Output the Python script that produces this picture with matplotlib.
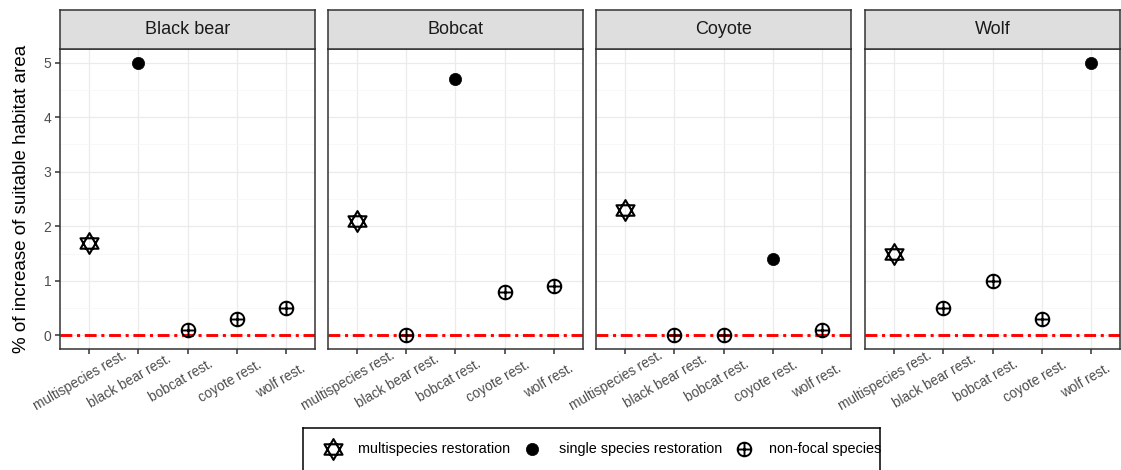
import matplotlib
matplotlib.use('Agg')
import matplotlib.pyplot as plt
import matplotlib.transforms as mtransforms
from matplotlib.path import Path
import numpy as np

plt.rcParams['font.family'] = ['Liberation Sans', 'DejaVu Sans']
plt.rcParams['lines.scale_dashes'] = False

# ---------------- data ----------------
panels = ['Black bear', 'Bobcat', 'Coyote', 'Wolf']
scenarios = ['multispecies rest.', 'black bear rest.', 'bobcat rest.',
             'coyote rest.', 'wolf rest.']
black_bear = [1.7, 5.0, 0.1, 0.3, 0.5]
bobcat = [2.1, 0.0, 4.7, 0.8, 0.9]
coyote = [2.3, 0.0, 0.0, 1.4, 0.1]
wolf = [1.5, 0.5, 1.0, 0.3, 5.0]
panel_values = [black_bear, bobcat, coyote, wolf]
focal_index = [1, 2, 3, 4]          # single-species restoration for each panel
y_ticks = [0, 1, 2, 3, 4, 5]
legend_labels = ['multispecies restoration', 'single species restoration',
                 'non-focal species']

# ---------------- markers ----------------
c30 = np.cos(np.pi / 6)
hexagram = Path(
    [(0, 1), (-c30, -0.5), (c30, -0.5), (0, 1),
     (0, -1), (-c30, 0.5), (c30, 0.5), (0, -1)],
    [Path.MOVETO, Path.LINETO, Path.LINETO, Path.CLOSEPOLY,
     Path.MOVETO, Path.LINETO, Path.LINETO, Path.CLOSEPOLY])
circle_plus = Path.make_compound_path(
    Path.unit_circle(),
    Path([(-1, 0), (1, 0)], [Path.MOVETO, Path.LINETO]),
    Path([(0, -1), (0, 1)], [Path.MOVETO, Path.LINETO]))

style_multi = dict(marker=hexagram, ms=15, mfc='none', mec='black', mew=1.5, ls='none')
style_single = dict(marker='o', ms=8.8, mfc='black', mec='black', mew=0.5, ls='none')
style_nonfocal = dict(marker=circle_plus, ms=9.8, mfc='none', mec='black', mew=1.4, ls='none')

# ---------------- layout ----------------
W, H = 1121, 470
fig = plt.figure(figsize=(W / 100, H / 100), dpi=100)
fig.patch.set_facecolor('white')

lefts = [60, 328, 596, 865]
pw = 255
top_px, bot_px, strip_top = 49, 349, 10
border = '#333333'

label_texts = []
for p, (name, vals) in enumerate(zip(panels, panel_values)):
    L = lefts[p]
    ax = fig.add_axes([L / W, 1 - bot_px / H, pw / W, (bot_px - top_px) / H])
    ax.set_xlim(-0.6, 4.6)
    ax.set_ylim(-0.25, 5.25)
    ax.set_xticks(range(len(scenarios)))
    ax.set_xticklabels([])
    ax.set_yticks(y_ticks)
    ax.set_yticks(np.arange(0.5, 5.25, 1.0), minor=True)
    ax.grid(which='major', color='#EBEBEB', lw=0.9, zorder=0)
    ax.grid(which='minor', axis='y', color='#F6F6F6', lw=0.5, zorder=0)
    ax.tick_params(axis='x', which='minor', bottom=False)
    ax.tick_params(axis='y', which='minor', left=False)
    ax.set_axisbelow(True)
    for s in ax.spines.values():
        s.set_color(border)
        s.set_linewidth(1.1)
    ax.tick_params(axis='x', length=3.6, width=1.1, color=border)
    if p == 0:
        ax.tick_params(axis='y', length=3.6, width=1.1, color=border,
                       labelsize=10, labelcolor='#4D4D4D', pad=2.5)
    else:
        ax.tick_params(axis='y', left=False, labelleft=False)

    # reference line at zero
    ax.axhline(0, color='#FF0000', lw=2.1, dashes=(8.5, 3.4, 2.2, 3.4), zorder=2)

    xs = np.arange(len(vals))
    vals = np.array(vals)
    multi = xs == 0
    single = xs == focal_index[p]
    nonf = ~(multi | single)
    ax.plot(xs[multi], vals[multi], zorder=4, **style_multi)
    ax.plot(xs[single], vals[single], zorder=4, **style_single)
    ax.plot(xs[nonf], vals[nonf], zorder=4, **style_nonfocal)

    # strip
    sax = fig.add_axes([L / W, 1 - top_px / H, pw / W, (top_px - strip_top) / H])
    sax.set_facecolor('#DEDEDE')
    sax.set_xticks([])
    sax.set_yticks([])
    for s in sax.spines.values():
        s.set_color(border)
        s.set_linewidth(1.1)
    sax.text(0.5, 0.5, name, ha='center', va='center', fontsize=13,
             color='#1A1A1A', transform=sax.transAxes)

    # rotated x labels
    trans = mtransforms.blended_transform_factory(ax.transData, fig.transFigure)
    for i, lab in enumerate(scenarios):
        t = fig.text(i, 1 - 381 / H, lab, rotation=30, ha='center', va='center',
                     fontsize=9.8, color='#4D4D4D', transform=trans)
        label_texts.append((t, trans))

# y axis title
fig.text(22 / W, 1 - 199 / H, '% of increase of suitable habitat area',
         rotation=90, ha='center', va='center', fontsize=13.5, color='black')

# shift labels slightly left (ggplot rotated justification)
fig.canvas.draw()
renderer = fig.canvas.get_renderer()
for t, trans in label_texts:
    w = t.get_window_extent(renderer).width
    t.set_transform(trans + mtransforms.Affine2D().translate(-0.1 * w, 0))

# ---------------- legend ----------------
lx0, lx1, ly0 = 303, 880, 428
lax = fig.add_axes([lx0 / W, (H - 480) / H, (lx1 - lx0) / W, (480 - ly0) / H])
lax.set_xlim(lx0, lx1)
lax.set_ylim(480, ly0)
lax.set_xticks([])
lax.set_yticks([])
for s in lax.spines.values():
    s.set_color('black')
    s.set_linewidth(1.1)
lax.patch.set_facecolor('white')
ky = 449
key_x = [333, 532, 744]
txt_x = [358, 559, 769]
styles = [style_multi, style_single, style_nonfocal]
for kx, tx, st, lab in zip(key_x, txt_x, styles, legend_labels):
    lax.plot([kx], [ky], **st)
    lax.text(tx, ky, lab, ha='left', va='center', fontsize=10.4, color='black')

fig.savefig('out.png', dpi=100)
